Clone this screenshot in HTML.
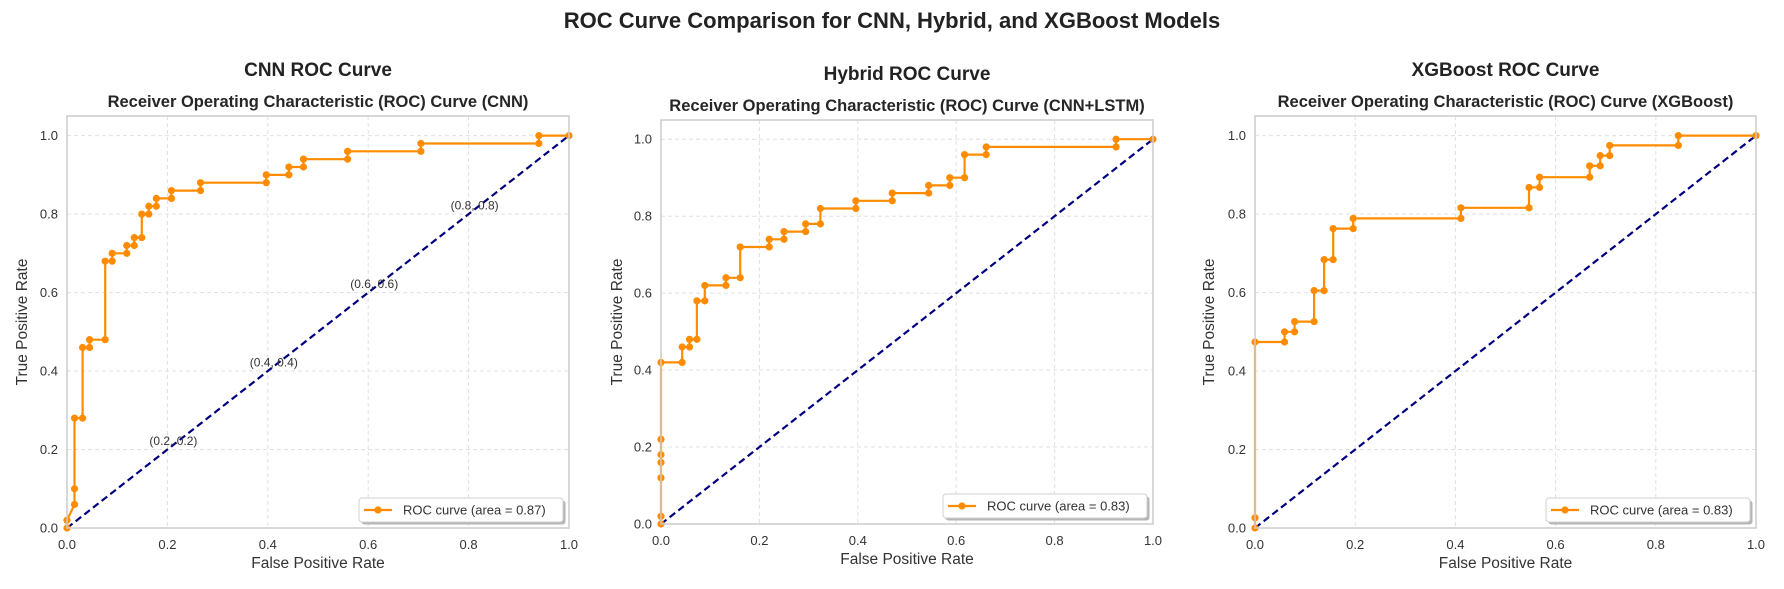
<!DOCTYPE html>
<html><head><meta charset="utf-8"><style>
html,body{margin:0;padding:0;background:#fff;}
svg{display:block;font-family:"Liberation Sans",Arial,sans-serif;}
</style></head><body>
<svg id="fig" width="1784" height="589" viewBox="0 0 1784 589" xmlns="http://www.w3.org/2000/svg">
<rect width="1784" height="589" fill="#fff"/>
<text x="892" y="28" text-anchor="middle" font-size="22" font-weight="bold" fill="#222">ROC Curve Comparison for CNN, Hybrid, and XGBoost Models</text>
</svg>
<script>
// CNN data
const cnnFpr = [0,0,0.015,0.015,0.015,0.031,0.031,0.045,0.045,0.076,0.076,0.09,0.09,0.119,0.119,0.134,0.134,0.149,0.149,0.163,0.163,0.178,0.178,0.208,0.208,0.266,0.266,0.397,0.397,0.442,0.442,0.471,0.471,0.559,0.559,0.705,0.705,0.94,0.94,1];
const cnnTpr = [0,0.02,0.06,0.10,0.28,0.28,0.46,0.46,0.48,0.48,0.68,0.68,0.70,0.70,0.72,0.72,0.74,0.74,0.80,0.80,0.82,0.82,0.84,0.84,0.86,0.86,0.88,0.88,0.90,0.90,0.92,0.92,0.94,0.94,0.96,0.96,0.98,0.98,1.0,1.0];
// Hybrid data
const hybFpr = [0,0,0,0,0,0,0,0.043,0.043,0.058,0.058,0.073,0.073,0.089,0.089,0.132,0.132,0.161,0.161,0.22,0.22,0.25,0.25,0.294,0.294,0.324,0.324,0.396,0.396,0.47,0.47,0.544,0.544,0.587,0.587,0.617,0.617,0.661,0.661,0.925,0.925,1];
const hybTpr = [0,0.02,0.12,0.16,0.18,0.22,0.42,0.42,0.46,0.46,0.48,0.48,0.58,0.58,0.62,0.62,0.64,0.64,0.72,0.72,0.74,0.74,0.76,0.76,0.78,0.78,0.82,0.82,0.84,0.84,0.86,0.86,0.88,0.88,0.90,0.90,0.96,0.96,0.98,0.98,1.0,1.0];
// XGBoost data
const xgbFpr = [0,0,0,0.059,0.059,0.079,0.079,0.118,0.118,0.138,0.138,0.156,0.156,0.196,0.196,0.411,0.411,0.547,0.547,0.568,0.568,0.668,0.668,0.689,0.689,0.708,0.708,0.845,0.845,1];
const xgbTpr = [0,0.026,0.474,0.474,0.5,0.5,0.526,0.526,0.605,0.605,0.684,0.684,0.763,0.763,0.789,0.789,0.816,0.816,0.868,0.868,0.894,0.894,0.923,0.923,0.949,0.949,0.975,0.975,1.0,1.0];
const xTicks = [0,0.2,0.4,0.6,0.8,1.0];
const yTicks = [0,0.2,0.4,0.6,0.8,1.0];
const tickLabels = ["0.0","0.2","0.4","0.6","0.8","1.0"];
const annotPts = [0.2,0.4,0.6,0.8];
const aucCnn = "0.87", aucHyb = "0.83", aucXgb = "0.83";

const NS = "http://www.w3.org/2000/svg";
const svg = document.getElementById('fig');
function mk(tag, attrs, parent, text){
  const e = document.createElementNS(NS, tag);
  for (const k in attrs) e.setAttribute(k, attrs[k]);
  if (text !== undefined) e.textContent = text;
  (parent||svg).appendChild(e);
  return e;
}

const panels = [
  {key:'cnn', title:'CNN ROC Curve', sub:'Receiver Operating Characteristic (ROC) Curve (CNN)', fpr:cnnFpr, tpr:cnnTpr, auc:aucCnn, L:67, R:569, T:116, B:528, annot:true, ylab:23},
  {key:'hybrid', title:'Hybrid ROC Curve', sub:'Receiver Operating Characteristic (ROC) Curve (CNN+LSTM)', fpr:hybFpr, tpr:hybTpr, auc:aucHyb, L:661, R:1153, T:120, B:524, annot:false, ylab:618},
  {key:'xgboost', title:'XGBoost ROC Curve', sub:'Receiver Operating Characteristic (ROC) Curve (XGBoost)', fpr:xgbFpr, tpr:xgbTpr, auc:aucXgb, L:1255, R:1756, T:116, B:528, annot:false, ylab:1210}
];

panels.forEach(p => {
  const g = mk('g', {});
  
  
  const sx = v => p.L + v * (p.R - p.L);
  const sy = v => p.B - v / 1.05 * (p.B - p.T);
  const cx = (p.L + p.R) / 2;

  const t1 = mk('text', {x:cx, y:p.T - 40, 'text-anchor':'middle', 'font-size':19, 'font-weight':'bold', fill:'#222'}, g, p.title);
  
  
  const t2 = mk('text', {x:cx, y:p.T - 9, 'text-anchor':'middle', 'font-size':16.5, 'font-weight':'bold', fill:'#262626'}, g, p.sub);
  
  

  // grid
  xTicks.forEach((v, i) => {
    const gl = mk('line', {x1:sx(v), x2:sx(v), y1:p.T, y2:p.B, stroke:'#e0e0e0', 'stroke-width':1, 'stroke-dasharray':'4,3'}, g);
    
    
    const tl = mk('text', {x:sx(v), y:p.B + 21, 'text-anchor':'middle', 'font-size':13, fill:'#333'}, g, tickLabels[i]);
    
    
  });
  yTicks.forEach((v, i) => {
    const gl = mk('line', {x1:p.L, x2:p.R, y1:sy(v), y2:sy(v), stroke:'#e0e0e0', 'stroke-width':1, 'stroke-dasharray':'4,3'}, g);
    
    
    const tl = mk('text', {x:p.L - 9, y:sy(v) + 4.5, 'text-anchor':'end', 'font-size':13, fill:'#333'}, g, tickLabels[i]);
    
    
  });

  // diagonal
  const dg = mk('line', {x1:sx(0), y1:sy(0), x2:sx(1), y2:sy(1), stroke:'#000080', 'stroke-width':2.2, 'stroke-dasharray':'7,4'}, g);
  
  

  // roc line
  const pts = p.fpr.map((f, i) => sx(f).toFixed(1) + ',' + sy(p.tpr[i]).toFixed(1)).join(' ');
  const pl = mk('polyline', {points:pts, fill:'none', stroke:'#FF8C00', 'stroke-width':2.2}, g);
  
  
  p.fpr.forEach((f, i) => {
    const c = mk('circle', {cx:sx(f), cy:sy(p.tpr[i]), r:3.6, fill:'#FF8C00'}, g);
    
    
  });

  if (p.annot) {
    annotPts.forEach(v => {
      const a = mk('text', {x:sx(v + 0.012), y:sy(v + 0.022) + 4, 'text-anchor':'middle', 'font-size':12, fill:'#333'}, g, '(' + v.toFixed(1) + ', ' + v.toFixed(1) + ')');
      
      
    });
  }

  // spines
  const sp = mk('rect', {x:p.L, y:p.T, width:p.R - p.L, height:p.B - p.T, fill:'none', stroke:'#cccccc', 'stroke-width':1.5}, g);
  
  

  // axis labels
  const xl = mk('text', {x:cx, y:p.B + 40, 'text-anchor':'middle', 'font-size':15.5, fill:'#333'}, g, 'False Positive Rate');
  
  
  const ymid = (p.T + p.B) / 2;
  const yl = mk('text', {x:p.ylab, y:ymid, 'text-anchor':'middle', 'font-size':15.5, fill:'#333', transform:'rotate(-90 ' + p.ylab + ' ' + ymid + ')', 'dominant-baseline':'middle'}, g, 'True Positive Rate');
  
  

  // legend
  const lw = 204, lh = 24;
  const lx = p.R - 6 - lw, ly = p.B - 6 - lh;
  const lg = mk('g', {}, g);
  
  
  mk('rect', {x:lx + 2.5, y:ly + 2.5, width:lw, height:lh, rx:3, fill:'#b5b5b5'}, lg);
  mk('rect', {x:lx, y:ly, width:lw, height:lh, rx:3, fill:'#fff', stroke:'#d0d0d0', 'stroke-width':1}, lg);
  mk('line', {x1:lx + 5, x2:lx + 33, y1:ly + lh / 2, y2:ly + lh / 2, stroke:'#FF8C00', 'stroke-width':2.2}, lg);
  mk('circle', {cx:lx + 19, cy:ly + lh / 2, r:3.6, fill:'#FF8C00'}, lg);
  const lt = mk('text', {x:lx + 44, y:ly + lh / 2 + 4.5, 'font-size':13, fill:'#333'}, lg, 'ROC curve (area = ' + p.auc + ')');
  
  
});
</script>
</body></html>
